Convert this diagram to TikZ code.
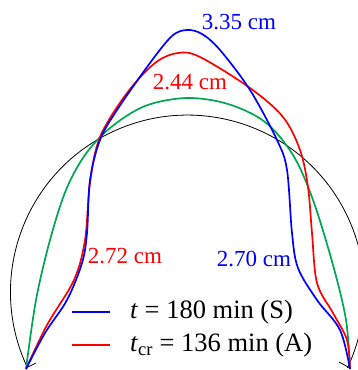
\documentclass[tikz,border=0pt]{standalone}
\usepackage{fontspec}
\setmainfont{Liberation Serif}
\usepackage{tikz}
\usetikzlibrary{%
  calc%
}
\definecolor{prgreen}{RGB}{0,166,81}
\tikzset{
  prof/.style={line width=1.7pt,line join=round},
  lbl/.style={font=\fontsize{23}{26}\selectfont,inner sep=0pt},
  leg/.style={font=\fontsize{26.5}{29}\selectfont,inner sep=0pt,anchor=west}
}

\begin{document}
\begin{tikzpicture}[x=1pt,y=-1pt]
\useasboundingbox (0,0) rectangle (357,370);

% initial circular profile
\draw [line width=0.8pt] (27.6,368) arc [start angle=154.6, end angle=385.4, radius=177];
\coordinate (bl) at (26,368);
\coordinate (br) at (350,368);
\draw [line width=0.8pt] (bl) -- ++(10,-5);
\draw [line width=0.8pt] (br) -- ++(-11,-6);

% profiles
\draw [prof,prgreen] plot [smooth, tension=0.55] coordinates {(26,369) (36,300) (50,240) (66,190) (85,155) (110,128) (145,106) (187,98) (228,104) (265,122) (293,155) (313,200) (333,265) (346,320) (350,369)};
\draw [prof,red] plot [smooth, tension=0.55] coordinates {(26,369) (47,325) (74,280) (85,240) (90,183) (100,137) (127,93) (155,63) (178,53) (200,57) (250,88) (283,117) (300,150) (308,187) (312,233) (317,283) (333,313) (347,340) (350,369)};
\draw [prof,blue] plot [smooth, tension=0.55] coordinates {(26,369) (45,333) (67,300) (82,263) (87,233) (90,180) (100,140) (117,110) (150,63) (172,36) (187,30) (202,34) (220,50) (250,90) (277,140) (287,170) (292,233) (298,268) (317,300) (340,330) (350,369)};

%% heights
\node[lbl,blue] (hS) at (239,22) {3.35 cm};
\node[lbl,red] (hA) at (190,82) {2.44 cm};
\node[lbl,red] (wA) at (125,256) {2.72 cm};
\node[lbl,blue] (wS) at (254,259) {2.70 cm};

% legend
\coordinate (sA) at (72,312);
\coordinate (sB) at (110,312);
\coordinate (aA) at (72,345);
\coordinate (aB) at (110,345);
\draw [prof,blue] (sA) -- (sB);
\draw [prof,red] (aA) -- (aB);
\node[leg] (tS) at (130,312) {\textit{t} = 180 min (S)};
\node[leg] (tA) at (130,345) {\textit{t}\textsubscript{cr} = 136 min (A)};
\end{tikzpicture}
\end{document}
